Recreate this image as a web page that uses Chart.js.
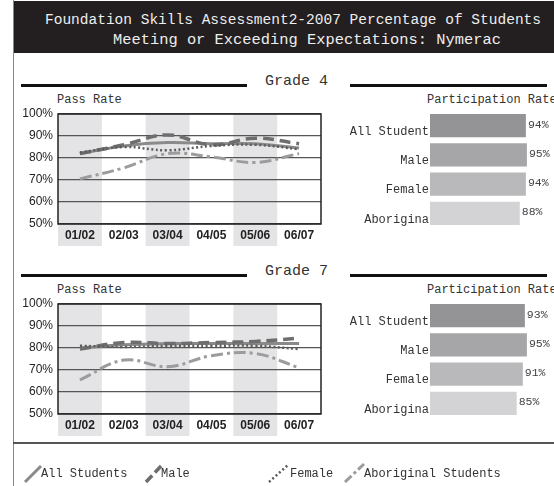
<!DOCTYPE html>
<html>
<head>
<meta charset="utf-8">
<script src="https://cdn.jsdelivr.net/npm/chart.js@4.4.1/dist/chart.umd.min.js"></script>
<style>
  body { margin: 0; width: 554px; height: 486px; overflow: hidden; background: #fff; position: relative; font-family: "Liberation Mono", "DejaVu Sans Mono", monospace; }
  .abs { position: absolute; white-space: nowrap; }
  .box { position: absolute; }
  .lbl { font-size: 12px; color: #333; line-height: 14px; }
  .head { font-size: 15px; color: #333; line-height: 18px; }
  #title1 { left: 45px; top: 11px; font-size: 14.5px; color: #eee; line-height: 18px; }
  #title2 { left: 113px; top: 31px; font-size: 15.4px; color: #eee; line-height: 18px; }
</style>
</head>
<body>
<div class="box" style="left:13px;top:1px;width:541px;height:52px;background:#231f20"></div>
<div class="box" style="left:13px;top:0;width:1px;height:486px;background:#888"></div>
<div id="title1" class="abs">Foundation Skills Assessment2-2007 Percentage of Students</div>
<div id="title2" class="abs">Meeting or Exceeding Expectations: Nymerac</div>

<div class="box" style="left:21px;top:84px;width:226px;height:3px;background:#111"></div>
<div class="box" style="left:350px;top:84px;width:197px;height:3px;background:#111"></div>
<div class="abs head" style="left:265px;top:73px">Grade 4</div>
<div class="abs lbl" style="left:57px;top:93px">Pass Rate</div>
<div class="abs lbl" style="left:427px;top:93px">Participation Rate</div>

<div class="box" style="left:21px;top:274px;width:226px;height:3px;background:#111"></div>
<div class="box" style="left:350px;top:274px;width:197px;height:3px;background:#111"></div>
<div class="abs head" style="left:265px;top:263px">Grade 7</div>
<div class="abs lbl" style="left:57px;top:283px">Pass Rate</div>
<div class="abs lbl" style="left:427px;top:283px">Participation Rate</div>

<div class="box" style="left:13px;top:442px;width:541px;height:2px;background:#555"></div>

<div class="box" style="left:0;top:105px;width:340px;height:146px"><canvas id="g4line"></canvas></div>
<div class="box" style="left:330px;top:111px;width:224px;height:117px"><canvas id="g4bar"></canvas></div>
<div class="box" style="left:0;top:295px;width:340px;height:146px"><canvas id="g7line"></canvas></div>
<div class="box" style="left:330px;top:301px;width:224px;height:117px"><canvas id="g7bar"></canvas></div>

<svg class="box" style="left:0;top:0" width="554" height="486">
  <line x1="25" y1="482" x2="41" y2="466" stroke="#8a8a8a" stroke-width="3"/>
  <line x1="146" y1="482" x2="163" y2="464" stroke="#6e6e6e" stroke-width="3.5" stroke-dasharray="9 4"/>
  <line x1="269" y1="482" x2="288" y2="465" stroke="#5c5c5c" stroke-width="2.5" stroke-dasharray="2 2.5"/>
  <line x1="345" y1="482" x2="364" y2="464" stroke="#9c9c9c" stroke-width="3" stroke-dasharray="9 3 3 3"/>
</svg>
<div class="abs lbl" style="left:41px;top:467px">All Students</div>
<div class="abs lbl" style="left:161px;top:467px">Male</div>
<div class="abs lbl" style="left:290px;top:467px">Female</div>
<div class="abs lbl" style="left:364px;top:467px">Aboriginal Students</div>

<script>
// school years and groups
const years = ['01/02', '02/03', '03/04', '04/05', '05/06', '06/07'];
const groups = ['All Students', 'Male', 'Female', 'Aboriginal Students'];
const groupLabels = ['All Student', 'Male', 'Female', 'Aborigina'];

// pass rates (%)
const g4All = [82, 85.5, 87, 86.5, 86.5, 84.5];
const g4Male = [82, 86, 90.5, 86, 89, 86.5];
const g4Female = [82.5, 85, 83.5, 85.5, 86, 84];
const g4Abor = [70.5, 75.5, 82, 80.5, 78, 82];

const g7All = [80, 81.5, 82, 82, 82, 82];
const g7Male = [79.5, 82.5, 82, 82.5, 83, 84.5];
const g7Female = [81, 80.5, 81, 81, 81, 79.5];
const g7Abor = [65.5, 74.5, 71.5, 76.5, 77.5, 71];

// participation rates (%)
const g4Part = [94, 95, 94, 88];
const g7Part = [93, 95, 91, 85];

const lineStyles = [
    { color: '#8a8a8a', width: 3, dash: [] },
    { color: '#6e6e6e', width: 3.5, dash: [11, 6] },
    { color: '#5c5c5c', width: 2.5, dash: [2, 2.5] },
    { color: '#9c9c9c', width: 3, dash: [12, 4, 3, 4] }
];
const barColors = ['#949497', '#a6a6a9', '#b9b9bb', '#d3d3d5'];

// grey bands behind every other year, running down under the labels
const bandPlugin = {
    id: 'bands',
    beforeDraw(chart) {
        const { ctx, chartArea, scales } = chart;
        const x = scales.x;
        const w = x.getPixelForValue(1) - x.getPixelForValue(0);
        ctx.save();
        ctx.fillStyle = '#e4e4e6';
        for (let i = 0; i < years.length; i += 2) {
            const cx = x.getPixelForValue(i);
            ctx.fillRect(cx - w / 2, chartArea.top, w, chartArea.bottom - chartArea.top + 22);
        }
        ctx.restore();
    }
};

const frame = {
    id: 'frame',
    afterDraw(chart) {
        const { ctx, chartArea } = chart;
        ctx.save();
        ctx.strokeStyle = '#222';
        ctx.lineWidth = 1.5;
        ctx.strokeRect(chartArea.left, chartArea.top, chartArea.right - chartArea.left, chartArea.bottom - chartArea.top);
        ctx.restore();
    }
};

function makeLine(id, series) {
    new Chart(document.getElementById(id), {
        type: 'line',
        data: {
            labels: years,
            datasets: series.map((d, i) => ({
                label: groups[i],
                data: d,
                borderColor: lineStyles[i].color,
                borderWidth: lineStyles[i].width,
                borderDash: lineStyles[i].dash,
                pointRadius: 0,
                tension: 0.4,
                fill: false
            })).reverse()
        },
        options: {
            responsive: true,
            maintainAspectRatio: false,
            animation: false,
            layout: { padding: { top: 9, right: 19, bottom: 5, left: 0 } },
            plugins: { legend: { display: false }, tooltip: { enabled: false } },
            scales: {
                x: {
                    offset: true,
                    grid: { display: false, drawTicks: false },
                    border: { display: false },
                    ticks: { color: '#222', font: { family: 'Liberation Sans', size: 12, weight: 'bold' }, padding: 4, maxRotation: 0, autoSkip: false },
                    afterFit(s) { s.height = 22; s.paddingLeft = 0; s.paddingRight = 0; }
                },
                y: {
                    min: 50, max: 100,
                    grid: { color: '#555', lineWidth: 1.2, drawTicks: false },
                    border: { display: false },
                    ticks: { stepSize: 10, color: '#222', font: { family: 'Liberation Sans', size: 12 }, padding: 5, callback: v => v + '%' },
                    afterFit(s) { s.width = 58; s.paddingTop = 0; s.paddingBottom = 0; }
                }
            }
        },
        plugins: [bandPlugin, frame]
    });
}

const valueLabels = {
    id: 'values',
    afterDatasetsDraw(chart) {
        const { ctx } = chart;
        const meta = chart.getDatasetMeta(0);
        ctx.save();
        ctx.font = '11.5px "Liberation Mono"';
        ctx.fillStyle = '#444';
        ctx.textBaseline = 'middle';
        meta.data.forEach((bar, i) => {
            ctx.fillText(chart.data.datasets[0].data[i] + '%', bar.x + 2, bar.y - 1);
        });
        ctx.restore();
    }
};

function makeBar(id, values) {
    new Chart(document.getElementById(id), {
        type: 'bar',
        data: {
            labels: groupLabels,
            datasets: [{
                data: values,
                backgroundColor: barColors,
                borderWidth: 0,
                categoryPercentage: 1,
                barPercentage: 0.79
            }]
        },
        options: {
            indexAxis: 'y',
            responsive: true,
            maintainAspectRatio: false,
            animation: false,
            layout: { padding: { top: 0, right: 22, bottom: 0, left: 0 } },
            plugins: { legend: { display: false }, tooltip: { enabled: false } },
            scales: {
                x: { display: false, min: 0, max: 100 },
                y: {
                    grid: { display: false, drawTicks: false },
                    border: { display: false },
                    ticks: { color: '#333', font: { family: 'Liberation Mono', size: 12 }, padding: 1, labelOffset: 6 },
                    afterFit(s) { s.width = 100; s.paddingTop = 0; s.paddingBottom = 0; }
                }
            }
        },
        plugins: [valueLabels]
    });
}

makeLine('g4line', [g4All, g4Male, g4Female, g4Abor]);
makeLine('g7line', [g7All, g7Male, g7Female, g7Abor]);
makeBar('g4bar', g4Part);
makeBar('g7bar', g7Part);
</script>
</body>
</html>
